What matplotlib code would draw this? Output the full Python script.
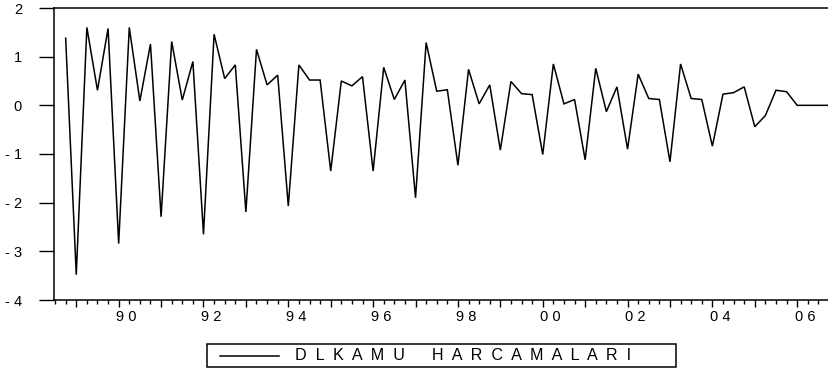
import matplotlib
matplotlib.use("Agg")
import matplotlib.pyplot as plt
from matplotlib.patches import Rectangle
from matplotlib.lines import Line2D
from matplotlib.ticker import MultipleLocator, FixedLocator
from matplotlib.transforms import ScaledTranslation

# Quarterly series, 1988Q4 - 2006Q4
start_year = 1988
start_quarter = 4
values = [
    1.38, -3.48, 1.60, 0.31, 1.58, -2.84, 1.60, 0.09, 1.26, -2.29,
    1.31, 0.11, 0.90, -2.65, 1.46, 0.55, 0.83, -2.19, 1.15, 0.42,
    0.62, -2.07, 0.83, 0.52, 0.52, -1.35, 0.50, 0.40, 0.59, -1.35,
    0.78, 0.12, 0.52, -1.90, 1.29, 0.29, 0.32, -1.23, 0.74, 0.03,
    0.42, -0.92, 0.49, 0.24, 0.22, -1.01, 0.85, 0.03, 0.12, -1.12,
    0.76, -0.13, 0.38, -0.90, 0.64, 0.14, 0.12, -1.16, 0.85, 0.14,
    0.12, -0.84, 0.23, 0.26, 0.38, -0.44, -0.21, 0.31, 0.28, 0.00,
    0.00, 0.00, 0.00,
]
series_label = "D  L  K  A  M  U      H  A  R  C  A  M  A  L  A  R  I"
y_ticks = [-4, -3, -2, -1, 0, 1, 2]
y_tick_labels = ["- 4", "- 3", "- 2", "- 1", "0", "1", "2"]
x_label_years = [1990, 1992, 1994, 1996, 1998, 2000, 2002, 2004, 2006]
x_tick_labels = ["9 0", "9 2", "9 4", "9 6", "9 8", "0 0", "0 2", "0 4", "0 6"]

t = [start_year + (start_quarter - 1) / 4 + i / 4 for i in range(len(values))]

W, H = 829, 373
fig = plt.figure(figsize=(W / 100, H / 100), dpi=100)
ax = fig.add_axes([54 / W, 1 - 300 / H, (829 - 54) / W, (300 - 8) / H])

ax.plot(t, values, color="black", lw=1.1, solid_joinstyle="miter")

ax.set_xlim(1988.475, 2006.75)
ax.set_ylim(-4, 2)

font = ["Liberation Sans", "DejaVu Sans"]

ax.yaxis.set_major_locator(FixedLocator(y_ticks))
ax.set_yticklabels(y_tick_labels, family=font, fontsize=10.5)
ax.tick_params(axis="y", direction="out", length=11, width=1.0, pad=12)

ax.xaxis.set_minor_locator(MultipleLocator(0.25))
ax.set_xticks(list(range(1989, 2007)))
ax.set_xticklabels(["" if y not in x_label_years else x_tick_labels[x_label_years.index(y)]
                    for y in range(1989, 2007)], family=font, fontsize=10.5)
ax.tick_params(axis="x", which="major", direction="out", length=5, width=1.0, pad=2)
ax.tick_params(axis="x", which="minor", direction="out", length=3, width=1.0)
shift = ScaledTranslation(8 / 100, 0, fig.dpi_scale_trans)
for lbl in ax.get_xticklabels():
    lbl.set_transform(lbl.get_transform() + shift)

for s in ["left", "bottom", "top"]:
    ax.spines[s].set_linewidth(1.1)
    ax.spines[s].set_color("black")
ax.spines["right"].set_visible(False)

# Legend box (figure pixel coordinates)
x0, x1, ytop, ybot = 207, 676, 344, 367
fig.patches.append(Rectangle((x0 / W, 1 - ybot / H), (x1 - x0) / W, (ybot - ytop) / H,
                             transform=fig.transFigure, fill=False, edgecolor="black", lw=1.1))
ymid = 1 - ((ytop + ybot) / 2) / H
fig.lines.append(Line2D([220 / W, 279 / W], [ymid, ymid], transform=fig.transFigure,
                        color="black", lw=1.1))
fig.text(295 / W, ymid, series_label, ha="left", va="center", family=font, fontsize=11.6)

fig.savefig("out.png", dpi=100)
